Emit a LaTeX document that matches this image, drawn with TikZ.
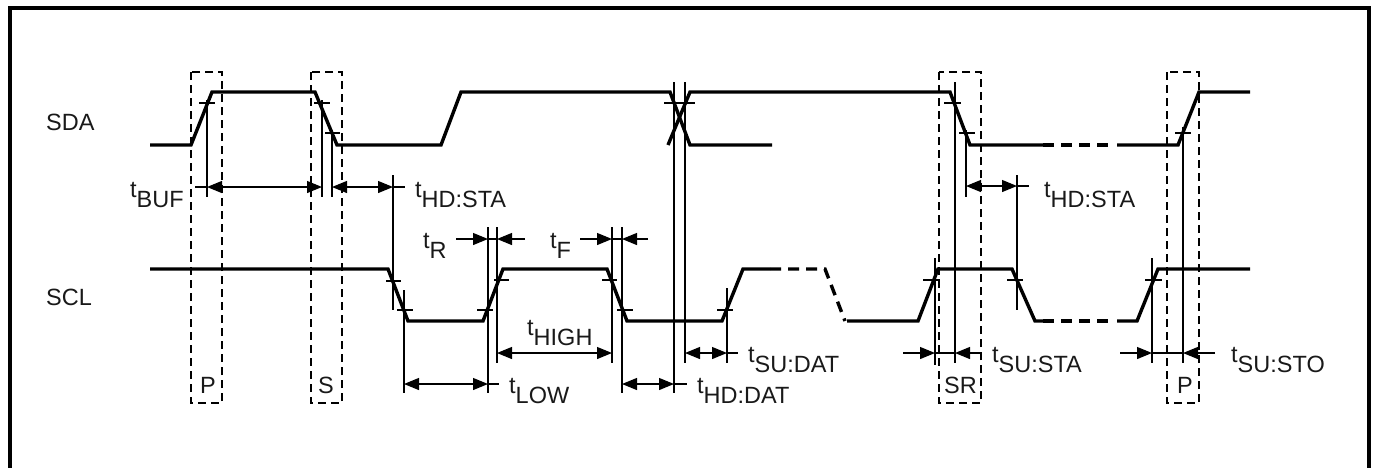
\documentclass[tikz,border=0pt]{standalone}
\usepackage{fontspec}
\setmainfont{Liberation Sans}
\usetikzlibrary{arrows.meta}
\begin{document}
\begin{tikzpicture}[x=1pt,y=-1pt,
  wave/.style={line width=3.4pt,line join=miter},
  wavedash/.style={line width=3.4pt,dash pattern=on 11pt off 7pt},
  thin/.style={line width=1.2pt},
  tick/.style={line width=1.2pt},
  dbox/.style={line width=1.4pt,dash pattern=on 8pt off 5pt},
  dim/.style={line width=1.2pt,{Triangle[length=15pt,width=12pt]}-{Triangle[length=15pt,width=12pt]}},
  arr/.style={line width=1.2pt,-{Triangle[length=15pt,width=12pt]}},
  lbl/.style={inner sep=0pt,anchor=base west,font=\fontsize{23.5}{28}\selectfont,text=black!90},
  frame/.style={line width=4pt}]
\useasboundingbox (0,0) rectangle (1375,467);
% frame
\draw[frame] (9.5,469) -- (9.5,8) -- (1369,8) -- (1369,469);
% signal names
\node[lbl] (sda) at (46,130) {SDA};
\node[lbl] (scl) at (46,305) {SCL};
% SDA waveform
\draw[wave] (150,145) -- (191,145) -- (212,92) -- (315,92) -- (337,145) -- (441,145) -- (461,92) -- (670,92) -- (690,145) -- (772,145);
\draw[wave] (668,145) -- (690,92) -- (950,92) -- (970,145) -- (1043,145);
\draw[wavedash] (1043,145) -- (1112,145);
\draw[wave] (1117,145) -- (1178,145) -- (1199,92) -- (1250,92);
% SCL waveform
\draw[wave] (150,269) -- (388,269) -- (408,321) -- (483,321) -- (503,269) -- (607,269) -- (627,321) -- (722,321) -- (743,269) -- (770,269);
\draw[wavedash] (770,269) -- (825,269) -- (845,321);
\draw[wave] (847,321) -- (918,321) -- (938,269) -- (1012,269) -- (1035,321) -- (1043,321);
\draw[wavedash] (1043,321) -- (1112,321);
\draw[wave] (1117,321) -- (1137,321) -- (1158,269) -- (1250,269);
% dashed boxes
\draw[dbox] (191,72) rectangle (222,403);
\draw[dbox] (311,72) rectangle (342,403);
\draw[dbox] (939,72) rectangle (981,403);
\draw[dbox] (1167,72) rectangle (1199,403);
% ticks on SDA
\draw[tick] (199,103) -- (215,103);
\draw[tick] (314,103) -- (330,103);
\draw[tick] (325,133) -- (340,133);
\draw[tick] (664,103) -- (680,103);
\draw[tick] (680,103) -- (695,103);
\draw[tick] (944,103) -- (961,103);
\draw[tick] (959,133) -- (975,133);
\draw[tick] (1175,133) -- (1191,133);
% ticks on SCL
\draw[tick] (386,281) -- (401,281);
\draw[tick] (397,310) -- (413,310);
\draw[tick] (477,310) -- (493,310);
\draw[tick] (494,280) -- (509,280);
\draw[tick] (602,280) -- (617,280);
\draw[tick] (617,310) -- (633,310);
\draw[tick] (717,310) -- (733,310);
\draw[tick] (923,280) -- (940,280);
\draw[tick] (1007,280) -- (1023,280);
\draw[tick] (1145,280) -- (1162,280);
% vertical reference lines
\draw[thin] (207,100) -- (207,197);
\draw[thin] (322,100) -- (322,197);
\draw[thin] (332,130) -- (332,197);
\draw[thin] (393,175) -- (393,310);
\draw[thin] (404,290) -- (404,393);
\draw[thin] (488,227) -- (488,393);
\draw[thin] (497,227) -- (497,363);
\draw[thin] (612,227) -- (612,363);
\draw[thin] (622,227) -- (622,393);
\draw[thin] (674,82) -- (674,393);
\draw[thin] (685,82) -- (685,363);
\draw[thin] (727,288) -- (727,363);
\draw[thin] (935,258) -- (935,365);
\draw[thin] (955,82) -- (955,363);
\draw[thin] (966,130) -- (966,197);
\draw[thin] (1017,175) -- (1017,310);
\draw[thin] (1152,258) -- (1152,363);
\draw[thin] (1183,127) -- (1183,363);
% dimension arrows
\draw[thin] (195,187) -- (207,187);
\draw[dim] (207,187) -- (322,187);
\draw[dim] (332,187) -- (393,187);
\draw[thin] (393,187) -- (405,187);
\draw[arr] (456,239) -- (488,239);
\draw[thin] (488,239) -- (497,239);
\draw[arr] (525,239) -- (497,239);
\draw[arr] (580,239) -- (612,239);
\draw[thin] (612,239) -- (622,239);
\draw[arr] (648,239) -- (622,239);
\draw[dim] (497,353) -- (612,353);
\draw[dim] (404,384) -- (488,384);
\draw[thin] (488,384) -- (499,384);
\draw[dim] (622,384) -- (674,384);
\draw[thin] (674,384) -- (687,384);
\draw[dim] (685,353) -- (727,353);
\draw[thin] (727,353) -- (738,353);
\draw[dim] (966,186) -- (1017,186);
\draw[thin] (1017,186) -- (1029,186);
\draw[arr] (903,353) -- (935,353);
\draw[thin] (935,353) -- (955,353);
\draw[arr] (981,353) -- (955,353);
\draw[arr] (1120,353) -- (1152,353);
\draw[thin] (1152,353) -- (1183,353);
\draw[arr] (1215,353) -- (1183,353);
% labels
\node[lbl] (lbuf) at (130,197) {t\raisebox{-10pt}{BUF}};
\node[lbl] (lhdsta) at (415,197) {t\raisebox{-10pt}{HD:STA}};
\node[lbl] (lr) at (423,248) {t\raisebox{-10pt}{R}};
\node[lbl] (lf) at (550,248) {t\raisebox{-10pt}{F}};
\node[lbl] (lhigh) at (527,335) {t\raisebox{-10pt}{HIGH}};
\node[lbl] (llow) at (509,393) {t\raisebox{-10pt}{LOW}};
\node[lbl] (lhddat) at (697,393) {t\raisebox{-10pt}{HD:DAT}};
\node[lbl] (lsudat) at (748,362) {t\raisebox{-10pt}{SU:DAT}};
\node[lbl] (lhdsta2) at (1044,197) {t\raisebox{-10pt}{HD:STA}};
\node[lbl] (lsusta) at (992,362) {t\raisebox{-10pt}{SU:STA}};
\node[lbl] (lsusto) at (1231,362) {t\raisebox{-10pt}{SU:STO}};
\node[lbl] (p1) at (200,393) {P};
\node[lbl] (s1) at (318,393) {S};
\node[lbl] (sr) at (944,393) {SR};
\node[lbl] (p2) at (1177,393) {P};
\end{tikzpicture}
\end{document}
